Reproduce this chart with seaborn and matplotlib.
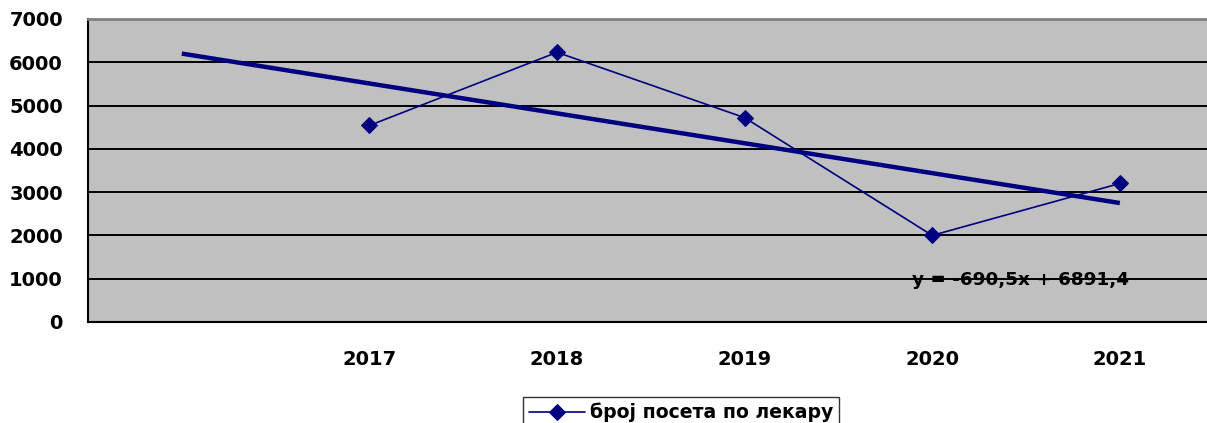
"""
Visits per doctor by year, with linear trend line
"""

import matplotlib

matplotlib.use("Agg")
import matplotlib.pyplot as plt
import numpy as np
import pandas as pd
import seaborn as sns

# Data
years = ["", "2017", "2018", "2019", "2020", "2021"]
visits = [np.nan, 4540, 6230, 4720, 2000, 3200]
series_name = "број посета по лекару"
trend_slope = -690.5
trend_intercept = 6891.4
trend_label = "y = -690,5x + 6891,4"
y_ticks = [0, 1000, 2000, 3000, 4000, 5000, 6000, 7000]

navy = "#000080"
fs = 14

sns.set_style("white")
plt.rcParams["font.family"] = ["DejaVu Sans"]
plt.rcParams["font.weight"] = "bold"
plt.rcParams["text.color"] = "black"
plt.rcParams["xtick.color"] = "black"
plt.rcParams["ytick.color"] = "black"

df = pd.DataFrame({"pos": np.arange(1, len(years) + 1), "year": years, "visits": visits})

fig = plt.figure(figsize=(12.07, 4.23), dpi=100)
ax = fig.add_axes([0.0729, 0.2388, 0.9326, 0.7163])
ax.set_facecolor("#C0C0C0")

# Data series
sns.lineplot(
    data=df.dropna(),
    x="pos",
    y="visits",
    ax=ax,
    color=navy,
    linewidth=1.2,
    marker="D",
    markersize=8,
    markeredgecolor=navy,
    label=series_name,
    legend=False,
)

# Linear trend over all category positions
trend_x = df["pos"].to_numpy(dtype=float)
trend_y = trend_slope * trend_x + trend_intercept
ax.plot(trend_x, trend_y, color=navy, linewidth=3.2, solid_capstyle="butt")

ax.text(5.47, 970, trend_label, ha="center", va="center", fontsize=13.2,
        fontweight="bold", color="black")

# Axes
ax.set_xlim(0.5, len(years) + 0.5)
ax.set_ylim(0, 7000)
ax.set_yticks(y_ticks)
ax.set_yticklabels([str(v) for v in y_ticks], fontsize=fs, fontweight="bold")
ax.yaxis.grid(True, color="black", linewidth=1.4)
ax.set_axisbelow(True)

ax.set_xticks(df["pos"])
ax.set_xticklabels(years, fontsize=fs, fontweight="bold")
ax.tick_params(axis="x", which="major", length=0, pad=20.5)
ax.set_xticks(np.arange(0.5, len(years) + 0.5), minor=True)
ax.tick_params(axis="x", which="minor", length=6, width=1.3, color="black", direction="out")
ax.tick_params(axis="y", length=7, width=1.3, color="black", direction="out", pad=11)
ax.set_xlabel("")
ax.set_ylabel("")

for side in ["left", "bottom"]:
    ax.spines[side].set_color("black")
    ax.spines[side].set_linewidth(1.5)
ax.spines["top"].set_color("#808080")
ax.spines["top"].set_linewidth(2)
ax.spines["right"].set_visible(False)

handles, labels = ax.get_legend_handles_labels()
leg = fig.legend(
    handles,
    labels,
    loc="upper center",
    bbox_to_anchor=(681 / 1207, (423 - 397) / 423),
    frameon=True,
    fancybox=False,
    edgecolor="black",
    fontsize=13.6,
    handlelength=3.0,
    borderpad=0.3,
    borderaxespad=0,
    handletextpad=0.25,
)
leg.get_frame().set_linewidth(1.0)
for t in leg.get_texts():
    t.set_fontweight("bold")

fig.savefig("out.png", dpi=100)
